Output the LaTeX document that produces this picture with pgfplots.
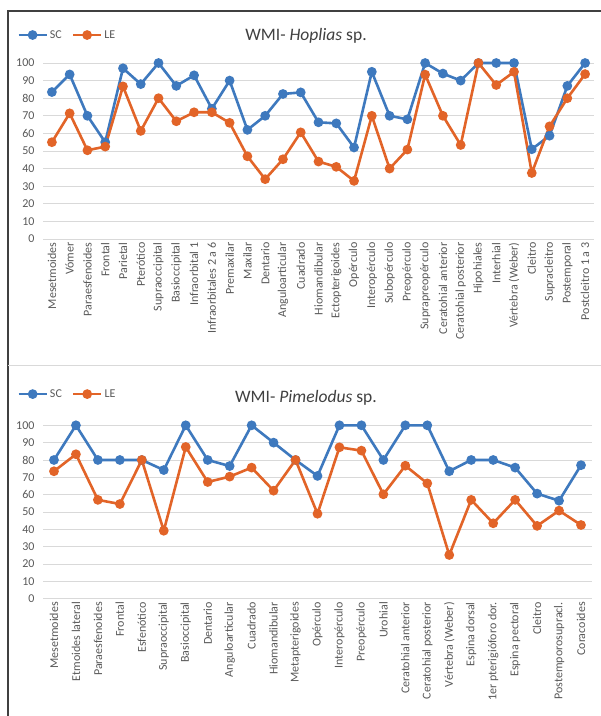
\documentclass[border=0pt]{standalone}
\usepackage{fontspec}
\setmainfont{Carlito}
\usepackage{pgfplots}
\pgfplotsset{compat=1.18}
\definecolor{scblue}{RGB}{62,121,190}
\definecolor{leorange}{RGB}{226,100,40}
\definecolor{txtgray}{RGB}{89,89,89}
\definecolor{gridgray}{RGB}{217,217,217}
\definecolor{framegray}{RGB}{64,64,64}
\pgfplotsset{
  wmi/.style={
    scale only axis, anchor=south west, clip=false,
    axis line style={draw=none}, tick style={draw=none},
    ymin=0, ymax=100, ytick={0,10,...,100},
    ymajorgrids, grid style={gridgray, line width=0.9pt},
    /pgf/number format/assume math mode=true,
    yticklabel style={font=\fontsize{12}{14}\selectfont, text=txtgray, xshift=-5pt},
    xticklabel style={font=\fontsize{12}{14}\selectfont, text=txtgray, rotate=90, anchor=east},
    legend columns=2,
    legend style={draw=none, fill=none, inner sep=0pt, anchor=west,
      font=\fontsize{12}{14}\selectfont, text=txtgray,
      /tikz/every even column/.append style={column sep=8pt}},
    legend image code/.code={\draw[mark repeat=2,mark phase=2,##1] plot coordinates {(0pt,0pt) (14pt,0pt) (28pt,0pt)};},
  },
  sc/.style={scblue, line width=2.6pt, mark=*, mark size=3.5pt, mark options={solid, fill=scblue}},
  le/.style={leorange, line width=2.6pt, mark=*, mark size=3.5pt, mark options={solid, fill=leorange}},
}
\begin{document}
\begin{tikzpicture}
\useasboundingbox (0pt,0pt) rectangle (601pt,716pt);
\fill[white] (0pt,0pt) rectangle (601pt,716pt);
\draw[framegray, line width=1.3pt] (8pt,0pt) -- (8pt,705pt) -- (601pt,705pt);
\draw[gridgray, line width=1pt] (8pt,350pt) -- (601pt,350pt);
\node[text=framegray] at (306pt,680pt) {\fontsize{17.5}{20}\selectfont WMI- \textit{Hoplias} sp.};
\node[text=framegray] at (306pt,318pt) {\fontsize{17.5}{20}\selectfont WMI- \textit{Pimelodus} sp.};

\begin{axis}[wmi, at={(43pt,477pt)}, width=551pt, height=176pt,
  xmin=-0.5, xmax=30.5, xtick={0,1,...,30},
  xticklabels={Mesetmoides, Vómer, Paraesfenoides, Frontal, Parietal, Pterótico, Supraoccipital, Basioccipital, Infraorbital 1, Infraorbitales 2 a 6, Premaxilar, Maxilar, Dentario, Anguloarticular, Cuadrado, Hiomandibular, Ectopterigoides, Opérculo, Interopérculo, Subopérculo, Preopérculo, Suprapreopérculo, Ceratohial anterior, Ceratohial posterior, Hipohiales, Interhial, Vértebra (Weber), Cleitro, Supracleitro, Postemporal, Postcleitro 1 a 3},
  legend style={at={(axis description cs:-0.047,1.159)}}]
\addplot[sc] coordinates {(0,83.5) (1,93.5) (2,70) (3,55) (4,97) (5,88) (6,100) (7,87) (8,93) (9,74) (10,90) (11,62) (12,70) (13,82.4) (14,83.3) (15,66.3) (16,65.7) (17,52) (18,95) (19,70) (20,68) (21,100) (22,94) (23,90) (24,100) (25,100) (26,100) (27,51) (28,58.7) (29,87) (30,100)};
\addlegendentry{SC}
\addplot[le] coordinates {(0,55) (1,71.4) (2,50.4) (3,52.5) (4,86.7) (5,61.4) (6,80) (7,66.9) (8,72) (9,72) (10,66) (11,47) (12,34) (13,45.3) (14,60.6) (15,44) (16,41) (17,33) (18,70) (19,40) (20,50.8) (21,93.4) (22,70) (23,53.4) (24,100) (25,87.5) (26,95) (27,37.5) (28,64) (29,80) (30,93.7)};
\addlegendentry{LE}
\end{axis}

\begin{axis}[wmi, at={(43pt,117.3pt)}, width=549pt, height=173.4pt,
  xmin=-0.5, xmax=24.5, xtick={0,1,...,24},
  xticklabels={Mesetmoides, Etmoides lateral, Paraesfenoides, Frontal, Esfenótico, Supraoccipital, Basioccipital, Dentario, Anguloarticular, Cuadrado, Hiomandibular, Metapterigoides, Opérculo, Interopérculo, Preopérculo, Urohial, Ceratohial anterior, Ceratohial posterior, Vértebra (Weber), Espina dorsal, 1er pterigióforo dor., Espina pectoral, Cleitro, Postemporosupracl., Coracoides},
  legend style={at={(axis description cs:-0.047,1.18)}}]
\addplot[sc] coordinates {(0,80) (1,100) (2,80) (3,80) (4,80) (5,74.2) (6,100) (7,80) (8,76.5) (9,100) (10,90) (11,80) (12,70.8) (13,100) (14,100) (15,80) (16,100) (17,100) (18,73.5) (19,80) (20,80) (21,75.6) (22,60.6) (23,56.5) (24,77)};
\addlegendentry{SC}
\addplot[le] coordinates {(0,73.5) (1,83.3) (2,57) (3,54.6) (4,80) (5,39.2) (6,87.5) (7,67.3) (8,70.4) (9,75.6) (10,62.3) (11,80) (12,49) (13,87.3) (14,85.4) (15,60.2) (16,76.7) (17,66.5) (18,25.2) (19,57) (20,43.5) (21,57) (22,42) (23,50.8) (24,42.5)};
\addlegendentry{LE}
\end{axis}
\end{tikzpicture}
\end{document}
